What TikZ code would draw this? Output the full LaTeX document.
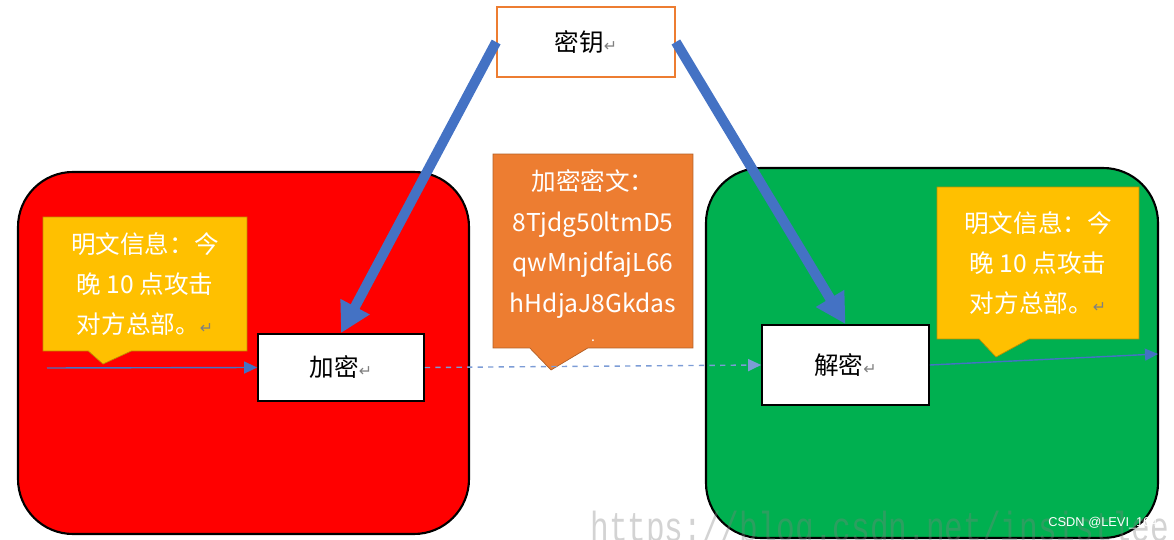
\documentclass[tikz,border=0pt]{standalone}
\usepackage{fontspec}
\setmainfont{Noto Sans CJK SC}
\newfontfamily\symfont{DejaVu Sans}
\newfontfamily\wmfont{Liberation Mono}
\newfontfamily\tagfont{Liberation Sans}
\usetikzlibrary{arrows.meta,shapes.callouts}
\definecolor{boxred}{HTML}{FF0000}
\definecolor{boxgreen}{HTML}{00B050}
\definecolor{keyorange}{HTML}{ED7D31}
\definecolor{noteyellow}{HTML}{FFC000}
\definecolor{arrowblue}{HTML}{4472C4}
\newcommand{\retmark}{{\color{gray}\symfont\fontsize{9}{9}\selectfont ↵}}
\tikzset{
  zone/.style={draw=black, line width=1.2pt, rounded corners=1.1cm},
  procbox/.style={draw=black, line width=1pt, fill=white, font=\fontsize{14}{14}\selectfont},
  note/.style={rectangle callout, fill=noteyellow, draw=noteyellow!75!black, text=white,
    align=center, font=\fontsize{14}{23}\selectfont, callout pointer width=0.86cm},
  bigarrow/.style={arrowblue, line width=0.2cm, -{Triangle[length=0.6cm,width=0.62cm]}},
  thinarrow/.style={arrowblue, line width=0.8pt, -{Triangle[length=0.26cm,width=0.24cm]}},
}

\begin{document}
\begin{tikzpicture}[x=0.02cm, y=-0.02cm]
    \useasboundingbox (0,0) rectangle (1174,540);
    % Draw the two zones
    \draw[zone, fill=boxred] (18,172) rectangle (469,534);
    \draw[zone, fill=boxgreen] (706,168) rectangle (1158,538);

    % Callouts
    \node[note, minimum width=4.08cm, minimum height=2.68cm, callout absolute pointer={(103,364)}] (plainA) at (145,284) {明文信息：今\\晚 10 点攻击\\对方总部。\retmark};
    \node[note, fill=keyorange, draw=keyorange!75!black, callout pointer width=1.16cm, minimum width=4cm, minimum height=3.84cm, callout absolute pointer={(551,370)}] (cipher) at (593,251) {\rule{0pt}{0.62cm}加密密文：\\8Tjdg50ltmD5\\qwMnjdfajL66\\hHdjaJ8Gkdas\\[-6pt]{\fontsize{8}{8}\selectfont .}};
    \node[note, minimum width=4.04cm, minimum height=3.04cm, callout pointer width=1cm, callout absolute pointer={(996,357)}] (plainB) at (1038,263) {明文信息：今\\晚 10 点攻击\\对方总部。\retmark};

    % Boxes
    \node[draw=keyorange, line width=1pt, fill=white, minimum width=3.56cm, minimum height=1.4cm, font=\fontsize{14}{14}\selectfont] (key) at (586,42) {密钥\retmark};
    \node[procbox, minimum width=3.32cm, minimum height=1.34cm] (enc) at (341,367.5) {加密\retmark};
    \node[procbox, minimum width=3.34cm, minimum height=1.6cm] (dec) at (845.5,365) {解密\retmark};

    % Message flow
    \coordinate (src) at (47,368);
    \coordinate (dst) at (1158,354);
    \draw[thinarrow] (src) -- (enc.west);
    \draw[thinarrow, arrowblue!70!white, dashed] (enc.east) -- (dec.west);
    \draw[thinarrow] (dec.east) -- (dst);

    % Key arrows
    \draw[bigarrow] (key.west) -- (enc.north);
    \draw[bigarrow] (key.east) -- (dec.north);

    % Marks
    \node[anchor=base west, inner sep=0, text=gray, opacity=0.35, font=\wmfont\fontsize{17.7}{17.7}\selectfont] (wm) at (590,541) {\scalebox{1}[1.35]{https://blog.csdn.net/insistlee}};
    \node[anchor=east, inner sep=0, text=white, font=\tagfont\fontsize{7.3}{7.3}\selectfont] (tag) at (1158,523) {CSDN @LEVI\_104};
\end{tikzpicture}
\end{document}
